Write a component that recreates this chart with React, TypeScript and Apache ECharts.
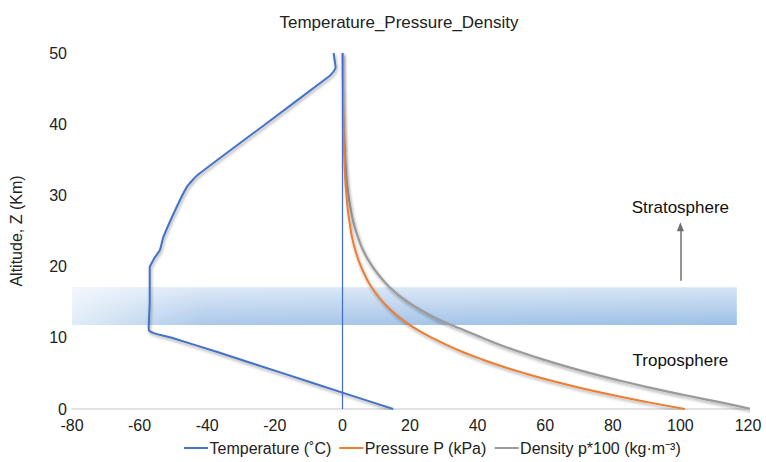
import React, { useEffect, useRef } from "react";
import * as echarts from "echarts";

const xTicks = { min: -80, max: 120, interval: 20 };
const yTicks = { min: 0, max: 50, interval: 10 };

// Temperature profile (°C) vs altitude (km)
const altTemp = [0, 2.3, 5, 8, 10, 10.35, 10.7, 11, 11.5, 15, 19.9, 20.6, 21.3, 22.3, 24.1, 28.4, 31.2, 32.8, 40, 46.7, 47.4, 48, 49, 50];
const tempC = [15, 0, -17.5, -37, -50.5, -53.5, -56, -57.2, -57.3, -57, -57, -56.3, -55.5, -54, -53, -49, -46, -43, -22.8, -4, -2.6, -2, -2.3, -2.6];

// Pressure (kPa) and density*100 (kg·m⁻³) vs altitude (km)
const altPD = [0, 1, 2, 3, 4, 5, 6, 7, 8, 9, 10, 11, 12, 13, 14, 15, 16, 17, 18, 20, 22, 24, 26, 28, 30, 32, 35, 40, 45, 50];
const pressureKPa = [101.3, 89.9, 79.5, 70.1, 61.6, 54.0, 47.2, 41.1, 35.6, 30.8, 26.5, 22.6, 19.3, 16.5, 14.1, 12.0, 10.3, 8.8, 7.5, 5.5, 4.0, 2.9, 2.2, 1.6, 1.2, 0.87, 0.57, 0.29, 0.15, 0.08];
const density100 = [121, 111.2, 100.7, 90.9, 81.9, 73.6, 66.0, 59.0, 52.6, 46.7, 41.4, 36.4, 31.1, 26.6, 22.8, 19.5, 16.6, 14.2, 12.2, 8.9, 6.4, 4.7, 3.4, 2.5, 1.8, 1.3, 0.85, 0.4, 0.2, 0.1];

// Annotations (data coordinates)
const tropopauseBand = { xFrom: -80, xTo: 116.7, yFrom: 11.8, yTo: 17.1 };
const arrowX = 100;
const arrowFrom = 18;
const arrowTo = 25.6;
const stratoLabel = { x: 100, y: 28.3, text: "Stratosphere" };
const tropoLabel = { x: 100, y: 6.8, text: "Troposphere" };

const FONT = "Liberation Sans, Arial, sans-serif";
const LEGEND_ICON = "path://M0,0 L24,0 L24,2 L0,2 Z";

export default function App() {
  const ref = useRef<HTMLDivElement>(null);
  useEffect(() => {
    if (!ref.current) return;
    const chart = echarts.init(ref.current, null, { renderer: "svg" });
    const shadow = {
      shadowColor: "rgba(0,0,0,0.35)",
      shadowBlur: 3,
      shadowOffsetX: 1,
      shadowOffsetY: 2,
    };
    chart.setOption({
      animation: false,
      backgroundColor: "#ffffff",
      textStyle: { fontFamily: FONT },
      title: {
        text: "Temperature_Pressure_Density",
        left: 394,
        textAlign: "center",
        top: 9,
        textStyle: { fontSize: 17, fontWeight: "normal", color: "#222", fontFamily: FONT },
      },
      grid: { left: 68, right: 18, top: 53, bottom: 53 },
      legend: {
        left: 182,
        top: 438,
        padding: 2,
        icon: LEGEND_ICON,
        itemWidth: 25,
        itemHeight: 2,
        itemGap: 8,
        textStyle: { fontSize: 16, color: "#222", fontFamily: FONT, padding: [0, 0, 0, -4] },
        data: ["Temperature (˚C)", "Pressure P (kPa)", "Density p*100 (kg·m⁻³)"],
      },
      xAxis: {
        type: "value",
        min: xTicks.min,
        max: xTicks.max,
        interval: xTicks.interval,
        splitLine: { show: false },
        axisTick: { show: false },
        axisLine: { show: true, onZero: false, lineStyle: { color: "#d9d9d9", width: 1.5 } },
        axisLabel: { fontSize: 16, color: "#222", margin: 8, fontFamily: FONT },
      },
      yAxis: {
        type: "value",
        min: yTicks.min,
        max: yTicks.max,
        interval: yTicks.interval,
        name: "Altitude, Z (Km)",
        nameLocation: "middle",
        nameGap: 48,
        nameTextStyle: { fontSize: 16, color: "#222", fontFamily: FONT },
        splitLine: { show: false },
        axisTick: { show: false },
        axisLine: { show: false },
        axisLabel: { fontSize: 16, color: "#222", margin: 5, fontFamily: FONT },
      },
      series: [
        {
          name: "band-base",
          type: "line",
          data: [],
          silent: true,
          markArea: {
            silent: true,
            itemStyle: {
              borderRadius: 4,
              color: new echarts.graphic.LinearGradient(0, 0, 0, 1, [
                { offset: 0, color: "#d6e5f5" },
                { offset: 1, color: "#9dbfe6" },
              ]),
            },
            data: [[
              { xAxis: tropopauseBand.xFrom, yAxis: tropopauseBand.yFrom },
              { xAxis: tropopauseBand.xTo, yAxis: tropopauseBand.yTo },
            ]],
          },
        },
        {
          name: "band-light",
          type: "line",
          data: [],
          silent: true,
          markArea: {
            silent: true,
            itemStyle: {
              color: new echarts.graphic.LinearGradient(0, 0, 1, 0, [
                { offset: 0, color: "rgba(255,255,255,0.7)" },
                { offset: 0.2, color: "rgba(255,255,255,0.15)" },
                { offset: 1, color: "rgba(255,255,255,0)" },
              ]),
            },
            data: [[
              { xAxis: tropopauseBand.xFrom, yAxis: tropopauseBand.yFrom },
              { xAxis: tropopauseBand.xTo, yAxis: tropopauseBand.yTo },
            ]],
          },
        },
        {
          name: "Temperature (˚C)",
          type: "line",
          showSymbol: false,
          symbol: "none",
          smooth: 0.15,
          color: "#4472c4",
          lineStyle: { color: "#4472c4", width: 2, ...shadow },
          data: altTemp.map((a, i) => [tempC[i], a]),
          markLine: {
            silent: true,
            symbol: ["none", "none"],
            label: { show: false },
            lineStyle: { color: "#4169d8", width: 1.2, type: "solid", shadowBlur: 0 },
            data: [{ xAxis: 0 }],
          },
          z: 4,
        },
        {
          name: "Pressure P (kPa)",
          type: "line",
          showSymbol: false,
          symbol: "none",
          smooth: true,
          color: "#ed7d31",
          lineStyle: { color: "#ed7d31", width: 2, ...shadow },
          data: altPD.map((a, i) => [pressureKPa[i], a]),
          z: 3,
        },
        {
          name: "Density p*100 (kg·m⁻³)",
          type: "line",
          showSymbol: false,
          symbol: "none",
          smooth: true,
          clip: false,
          color: "#9a9a9a",
          lineStyle: { color: "#9a9a9a", width: 2.2, ...shadow },
          data: altPD.map((a, i) => [density100[i], a]),
          markLine: {
            silent: true,
            symbol: ["none", "triangle"],
            symbolSize: [7, 9],
            label: { show: false },
            lineStyle: { color: "#6f6f6f", width: 1.5, type: "solid", shadowBlur: 0, shadowOffsetX: 0, shadowOffsetY: 0 },
            data: [[{ coord: [arrowX, arrowFrom] }, { coord: [arrowX, arrowTo] }]],
          },
          markPoint: {
            silent: true,
            symbol: "circle",
            symbolSize: 0,
            label: {
              show: true,
              position: "inside",
              fontSize: 17,
              color: "#111",
              fontFamily: FONT,
              formatter: (p: any) => p.name,
            },
            data: [
              { name: stratoLabel.text, coord: [stratoLabel.x, stratoLabel.y] },
              { name: tropoLabel.text, coord: [tropoLabel.x, tropoLabel.y] },
            ],
          },
          z: 2,
        },
      ],
    });
    return () => chart.dispose();
  }, []);
  return (
    <div
      ref={ref}
      style={{ position: "absolute", left: 0, top: 0, width: 766, height: 462 }}
    />
  );
}
